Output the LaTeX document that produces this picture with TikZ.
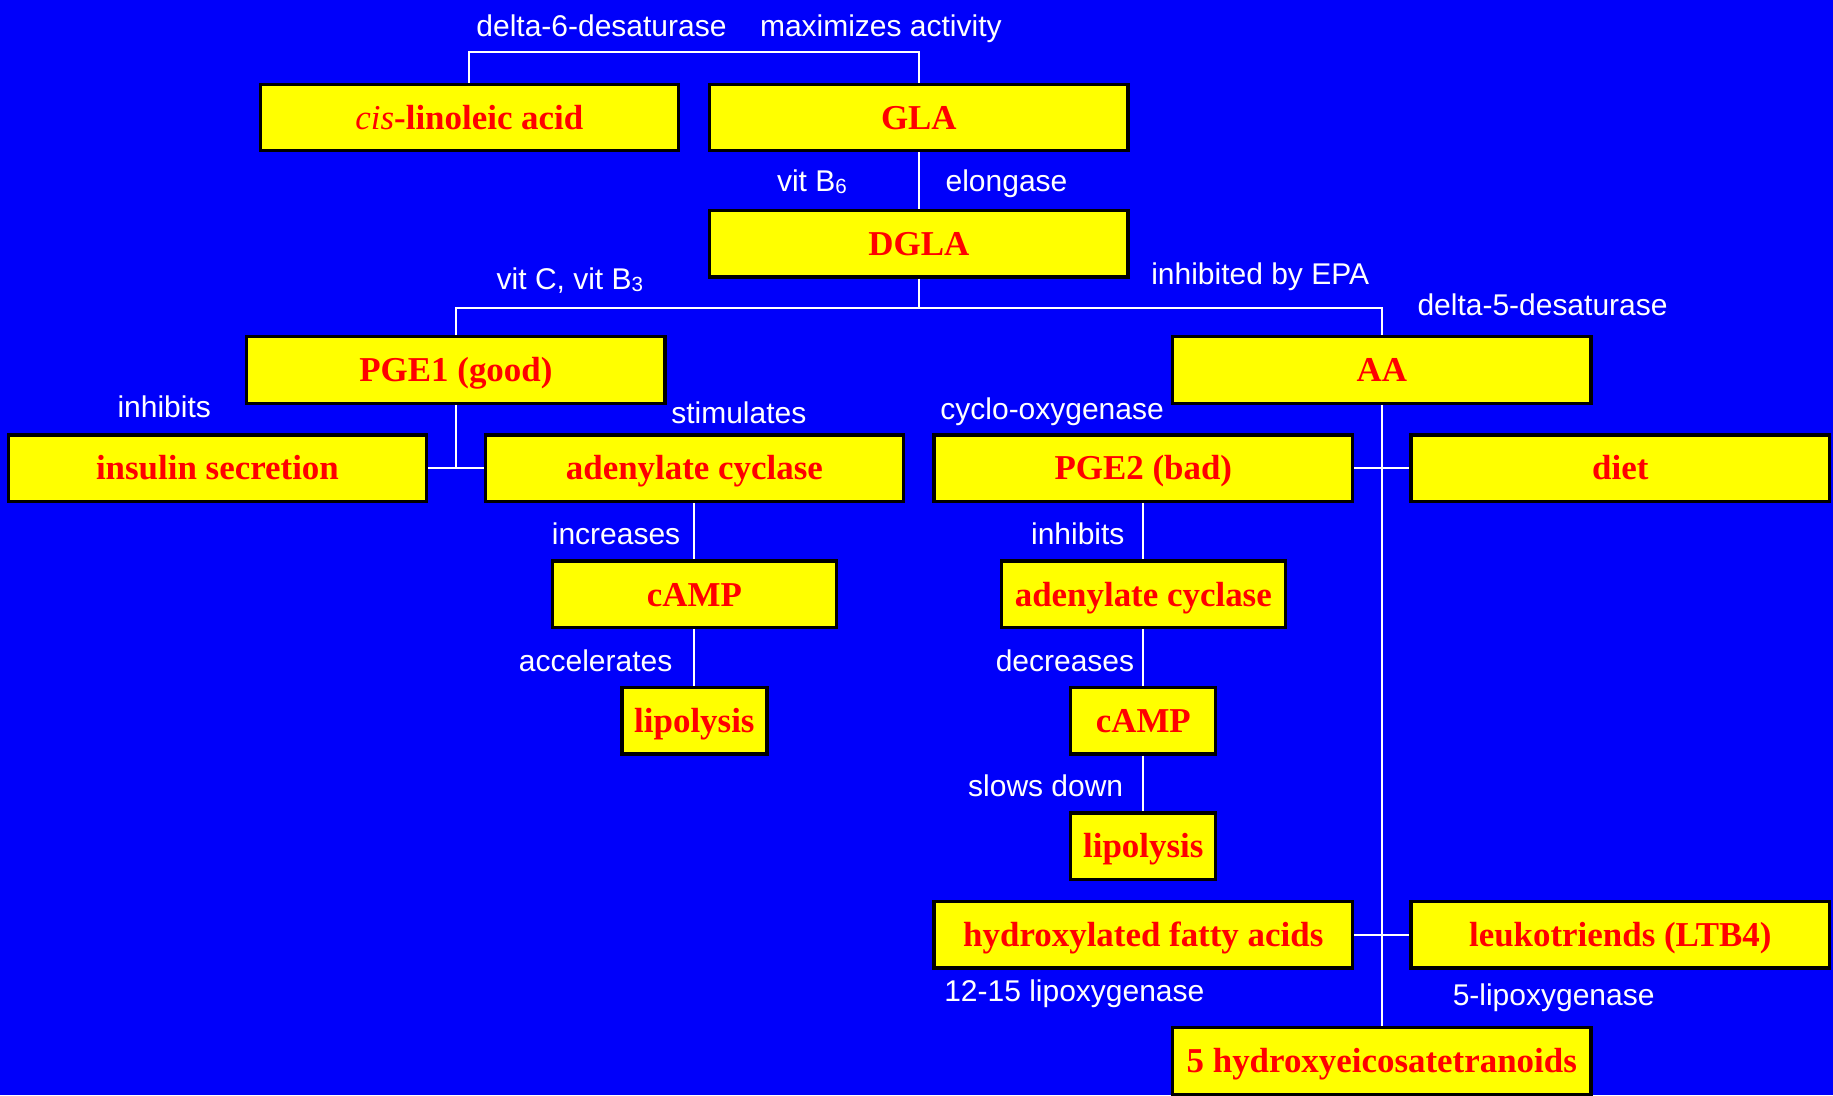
\documentclass[tikz,border=0pt]{standalone}
\usepackage{fontspec}
\setmainfont{Liberation Serif}
\setsansfont{Liberation Sans}
\definecolor{slideblue}{RGB}{0,0,250}
\definecolor{boxyellow}{RGB}{255,255,0}
\definecolor{boxred}{RGB}{255,0,0}
\newcommand{\subsc}[1]{\raisebox{-1pt}{\fontsize{10}{11}\selectfont #1}}

\begin{document}
\begin{tikzpicture}[x=0.02cm, y=-0.02cm,
  box/.style={draw=black, line width=1.6pt, fill=boxyellow, text=boxred,
    font=\bfseries\fontsize{17}{20}\selectfont, inner sep=0pt,
    text height=11.3pt, text depth=0pt,
    minimum width=7.16cm, minimum height=1.14cm},
  midbox/.style={box, minimum width=4.86cm},
  smallbox/.style={box, minimum width=2.48cm},
  lbl/.style={text=white, anchor=base, inner sep=0pt,
    font=\sffamily\fontsize{14.6}{17}\selectfont},
  link/.style={draw=white, line width=1pt}]
  \fill[slideblue] (0,0) rectangle (1568,937);
  \useasboundingbox (0,0) rectangle (1568,937);
  % boxes
  \node[box] (cis) at (401.5,100.5) {\textit{\mdseries cis}-linoleic acid};
  \node[box] (GLA) at (786,100.5) {GLA};
  \node[box] (DGLA) at (786,208.5) {DGLA};
  \node[box] (PGEone) at (390,316.5) {PGE1 (good)};
  \node[box] (AA) at (1182,316.5) {AA};
  \node[box] (insulin) at (186,400.5) {insulin secretion};
  \node[box] (adenylL) at (594,400.5) {adenylate cyclase};
  \node[box] (PGEtwo) at (978,400.5) {PGE2 (bad)};
  \node[box] (diet) at (1386,400.5) {diet};
  \node[midbox] (campL) at (594,508.5) {cAMP};
  \node[smallbox] (lipoL) at (594,616.5) {lipolysis};
  \node[midbox] (adenylR) at (978,508.5) {adenylate cyclase};
  \node[smallbox] (campR) at (978,616.5) {cAMP};
  \node[smallbox] (lipoR) at (978,724) {lipolysis};
  \node[box] (hydrox) at (978,799.5) {hydroxylated fatty acids};
  \node[box] (leuko) at (1386,799.5) {leukotriends (LTB4)};
  \node[box] (hete) at (1182,907.5) {5 hydroxyeicosatetranoids};
  % connectors
  \draw[link] (cis.north) -- ++(0,-26) -| (GLA.north);
  \draw[link] (GLA) -- (DGLA);
  \draw[link] (DGLA.south) -- ++(0,25) coordinate (split);
  \draw[link] (PGEone.north) |- (split) -| (AA.north);
  \draw[link] (PGEone.south) -- (PGEone.south |- insulin.east);
  \draw[link] (insulin) -- (adenylL);
  \draw[link] (adenylL) -- (campL);
  \draw[link] (campL) -- (lipoL);
  \draw[link] (AA) -- (hete);
  \draw[link] (PGEtwo) -- (diet);
  \draw[link] (hydrox) -- (leuko);
  \draw[link] (PGEtwo) -- (adenylR);
  \draw[link] (adenylR) -- (campR);
  \draw[link] (campR) -- (lipoR);
  % labels
  \node[lbl] (ldsix) at (514.5,31) {delta-6-desaturase};
  \node[lbl] (lmax) at (753.5,31) {maximizes activity};
  \node[lbl] (lvitb) at (694.5,164) {vit B\subsc{6}};
  \node[lbl] (lelong) at (861,164) {elongase};
  \node[lbl] (lvitc) at (487.5,248) {vit C, vit B\subsc{3}};
  \node[lbl] (lepa) at (1078,243) {inhibited by EPA};
  \node[lbl] (ldfive) at (1319.5,270) {delta-5-desaturase};
  \node[lbl] (linhL) at (140.5,357) {inhibits};
  \node[lbl] (lstim) at (632,362) {stimulates};
  \node[lbl] (lcyclo) at (900,359) {cyclo-oxygenase};
  \node[lbl] (lincr) at (527,466) {increases};
  \node[lbl] (laccel) at (509.5,574) {accelerates};
  \node[lbl] (linhR) at (922,466) {inhibits};
  \node[lbl] (ldecr) at (911,574) {decreases};
  \node[lbl] (lslow) at (894.5,681) {slows down};
  \node[lbl] (ltwelve) at (919,857) {12-15 lipoxygenase};
  \node[lbl] (lfive) at (1329,860) {5-lipoxygenase};
\end{tikzpicture}
\end{document}
